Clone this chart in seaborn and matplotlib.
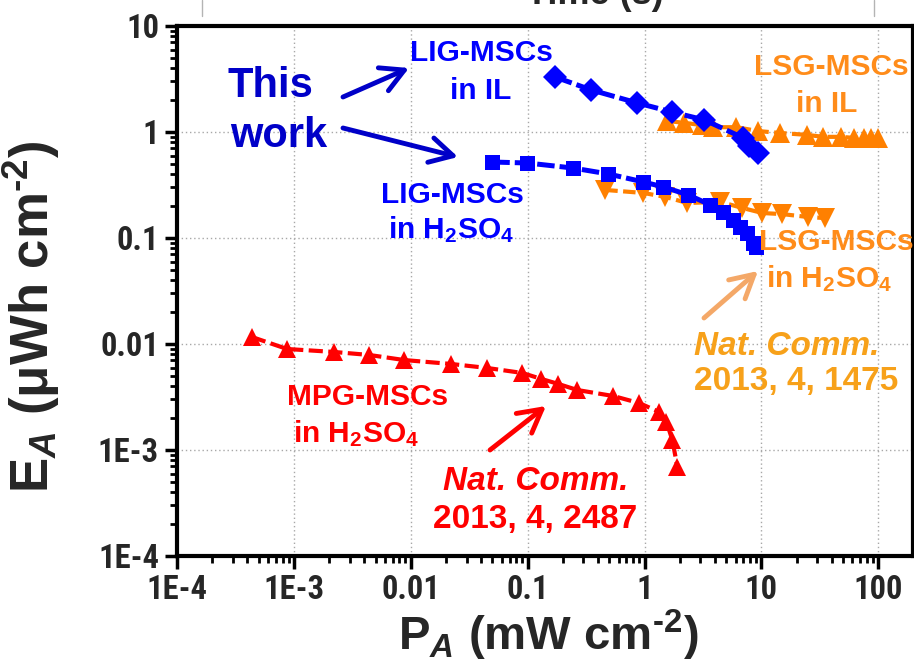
import matplotlib
matplotlib.use("Agg")
import matplotlib.pyplot as plt
from matplotlib import font_manager
from matplotlib.lines import Line2D
from matplotlib.patches import ArrowStyle
from matplotlib.ticker import LogLocator, NullFormatter
import numpy as np
import pandas as pd
import seaborn as sns

# ---- data: areal power (mW cm-2) vs areal energy (uWh cm-2) ----
lig_il_p = [0.172, 0.351, 0.867, 1.73, 3.25, 7.01, 7.89, 9.42]
lig_il_e = [3.30, 2.49, 1.88, 1.54, 1.30, 0.878, 0.738, 0.634]

lig_h2so4_p = [0.0498, 0.0993, 0.245, 0.490, 0.977, 1.45, 2.37, 3.66,
               4.73, 5.76, 6.61, 7.59, 8.55, 9.06]
lig_h2so4_e = [0.521, 0.510, 0.457, 0.402, 0.338, 0.303, 0.255, 0.205,
               0.176, 0.148, 0.127, 0.111, 0.0897, 0.0822]

lsg_il_p = [1.57, 2.19, 3.13, 3.88, 6.11, 9.42, 14.3, 24.3, 33.9, 47.5,
            62.5, 74.7, 85.8, 98.4]
lsg_il_e = [1.27, 1.22, 1.16, 1.11, 1.11, 1.02, 0.98, 0.94, 0.90, 0.90,
            0.88, 0.88, 0.88, 0.88]

lsg_h2so4_p = [0.461, 0.977, 1.51, 2.32, 4.46, 6.88, 10.2, 15.1, 24.8, 35.3]
lsg_h2so4_e = [0.284, 0.266, 0.244, 0.214, 0.219, 0.192, 0.172, 0.168,
               0.158, 0.154]

mpg_p = [4.38e-4, 8.75e-4, 2.21e-3, 4.41e-3, 8.77e-3, 0.0222, 0.0451,
         0.0900, 0.131, 0.183, 0.266, 0.541, 0.902, 1.34, 1.54, 1.73, 1.91]
mpg_e = [0.01164, 0.00897, 0.00841, 0.00788, 0.00706, 0.00648, 0.00594,
         0.00533, 0.00468, 0.00420, 0.00368, 0.00323, 0.00277, 0.00228,
         0.00184, 0.00124, 0.000692]

x_ticks = [1e-4, 1e-3, 1e-2, 1e-1, 1, 10, 100]
x_tick_labels = ["1E-4", "1E-3", "0.01", "0.1", "1", "10", "100"]
y_ticks = [1e-4, 1e-3, 1e-2, 1e-1, 1, 10]
y_tick_labels = ["1E-4", "1E-3", "0.01", "0.1", "1", "10"]

BLUE = "#0000FF"
DARK_BLUE = "#0000C8"
ORANGE = "#FF8000"
ORANGE_TXT = "#FF8C1A"
REF_ORANGE = "#F7A11A"
ARROW_ORANGE = "#F4A868"
RED = "#FF0000"

sns.set_style("ticks")
plt.rcParams["font.family"] = ["Liberation Sans", "DejaVu Sans"]
plt.rcParams["font.weight"] = "bold"
plt.rcParams["mathtext.fontset"] = "custom"
plt.rcParams["mathtext.rm"] = "Liberation Sans:bold"
plt.rcParams["mathtext.bf"] = "Liberation Sans:bold"
plt.rcParams["mathtext.it"] = "Liberation Sans:italic:bold"
plt.rcParams["mathtext.sf"] = "Liberation Sans:bold"
plt.rcParams["mathtext.default"] = "bf"


def family_available(name):
    try:
        font_manager.findfont(font_manager.FontProperties(family=name),
                              fallback_to_default=False)
        return True
    except Exception:
        return False


TICK_FAMILY = (["Roboto Condensed"] if family_available("Roboto Condensed")
               else ["Liberation Sans"])

W, H = 914, 669
fig = plt.figure(figsize=(W / 100, H / 100), dpi=100)
ax = fig.add_axes([177 / W, 1 - 556 / H, (913 - 177) / W, (556 - 26) / H])


def px(x, y):
    """Canvas pixel position (from top-left) -> figure fraction."""
    return x / W, 1 - y / H


series = [
    (mpg_p, mpg_e, RED, "^", 13.5, (0, (3.4, 1.3)), 3.0),
    (lsg_h2so4_p, lsg_h2so4_e, ORANGE, "v", 14, (0, (3.0, 1.3)), 3.0),
    (lsg_il_p, lsg_il_e, ORANGE, "^", 14, (0, (3.0, 1.3)), 3.0),
    (lig_h2so4_p, lig_h2so4_e, BLUE, "s", 10.8, (0, (3.5, 1.0)), 3.6),
    (lig_il_p, lig_il_e, BLUE, "D", 12, (0, (3.5, 1.0)), 3.6),
]
for p, e, c, m, ms, ls, lw in series:
    df = pd.DataFrame({"P": p, "E": e})
    sns.lineplot(data=df, x="P", y="E", ax=ax, color=c, marker=m,
                 markersize=ms, markeredgewidth=0, linestyle=ls, linewidth=lw,
                 sort=False, estimator=None, legend=False)

ax.set_xscale("log")
ax.set_yscale("log")
ax.set_xlim(1e-4, 198)
ax.set_ylim(1e-4, 10)

ax.set_xticks(x_ticks)
ax.set_xticklabels(x_tick_labels)
ax.set_yticks(y_ticks)
ax.set_yticklabels(y_tick_labels)
ax.xaxis.set_minor_locator(LogLocator(base=10, subs=np.arange(2, 10), numticks=20))
ax.yaxis.set_minor_locator(LogLocator(base=10, subs=np.arange(2, 10), numticks=20))
ax.xaxis.set_minor_formatter(NullFormatter())
ax.yaxis.set_minor_formatter(NullFormatter())

ax.tick_params(which="major", direction="out", length=9, width=2.5,
               labelsize=23.5, pad=4, top=False, right=False, color="black")
ax.tick_params(which="minor", direction="out", length=5, width=2,
               top=False, right=False, color="black")
for lab in ax.get_xticklabels() + ax.get_yticklabels():
    lab.set_family(TICK_FAMILY)
    lab.set_fontweight("bold")

for s in ax.spines.values():
    s.set_linewidth(3)
    s.set_color("black")

ax.grid(True, which="major", linestyle=(0, (1, 2)), color="#a8a8a8", linewidth=1)
ax.set_axisbelow(True)

ax.set_xlabel(r"P$_{\mathit{A}}$ (mW cm$^{\text{-2}}$)", fontsize=34, fontweight="bold")
ax.xaxis.set_label_coords((548 - 177) / 735, (556 - 608) / 530)
ax.set_ylabel(r"E$_{\mathit{A}}$ ($\mathregular{\mu}$Wh cm$^{\text{-2}}$)", fontsize=38,
              fontweight="bold")
ax.yaxis.set_label_coords((62 - 177) / 735, (556 - 317) / 530)


# ---- labels on the plot ----
def label(x, y, s, color, size, ha="center", style="normal"):
    fig.text(*px(x, y), s, color=color, fontsize=size, fontweight="bold",
             ha=ha, va="baseline", style=style)


label(228, 97, "This", DARK_BLUE, 30, ha="left")
label(230, 147, "work", DARK_BLUE, 30, ha="left")

label(481, 61, "LIG-MSCs", BLUE, 21.5)
label(481, 99, "in IL", BLUE, 21.5)
label(452, 203, "LIG-MSCs", BLUE, 21.5)
label(451, 238, r"in H$_2$SO$_4$", BLUE, 21.5)

label(831, 75, "LSG-MSCs", ORANGE_TXT, 21.5)
label(827, 112, "in IL", ORANGE_TXT, 21.5)
label(836, 250, "LSG-MSCs", ORANGE_TXT, 21.5)
label(829, 287, r"in H$_2$SO$_4$", ORANGE_TXT, 21.5)

label(368, 405, "MPG-MSCs", RED, 21.5)
label(356, 442, r"in H$_2$SO$_4$", RED, 21.5)

label(694, 355, "Nat. Comm.", REF_ORANGE, 24, ha="left", style="italic")
label(694, 390, "2013, 4, 1475", REF_ORANGE, 24, ha="left")
label(536, 490, "Nat. Comm.", RED, 24, style="italic")
label(535, 528, "2013, 4, 2487", RED, 24)


def arrow(tail, head, color):
    ax.annotate("", xy=px(*head), xytext=px(*tail),
                xycoords="figure fraction", textcoords="figure fraction",
                arrowprops=dict(arrowstyle=ArrowStyle("->", head_length=0.55, head_width=0.3),
                                color=color, lw=3.5, mutation_scale=30,
                                shrinkA=0, shrinkB=0))


arrow((343, 97), (409, 68), DARK_BLUE)
arrow((343, 128), (458, 157), DARK_BLUE)
arrow((490, 450), (546, 406), RED)
arrow((704, 318), (758, 271), ARROW_ORANGE)

# ---- edge of the time panel above ----
fig.text(*px(595, 4), "Time (s)", fontsize=26, fontweight="bold",
         ha="center", va="baseline")
for xx in (202, 874):
    fig.add_artist(Line2D([xx / W, xx / W], [1.0, 1 - 16 / H],
                          color="#b4b4b4", linewidth=1))

fig.savefig("out.png", dpi=100)
